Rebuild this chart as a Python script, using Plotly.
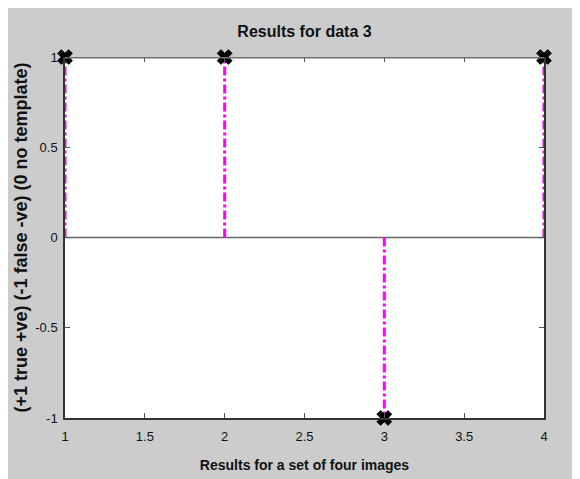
import plotly.graph_objects as go

x_vals = [1, 2, 3, 4]
y_vals = [1, 1, -1, 1]
x_ticks = [1, 1.5, 2, 2.5, 3, 3.5, 4]
x_tick_labels = ["1", "1.5", "2", "2.5", "3", "3.5", "4"]
y_ticks = [-1, -0.5, 0, 0.5, 1]
y_tick_labels = ["-1", "-0.5", "0", "0.5", "1"]

title = "Results for data 3"
x_title = "Results for a set of four images"
y_title = "(+1 true +ve) (-1 false -ve) (0 no template)"

W, H = 592, 490
L, T = 57, 49
pw, ph = 479, 361
R, B = W - L - pw, H - T - ph

fig = go.Figure()

# baseline
fig.add_trace(go.Scatter(x=[min(x_vals), max(x_vals)], y=[0, 0], mode="lines",
                         line=dict(color="#666666", width=1.5), showlegend=False, hoverinfo="skip"))

# stems
sx, sy = [], []
for xv, yv in zip(x_vals, y_vals):
    sx += [xv, xv, None]
    sy += [0, yv, None]
fig.add_trace(go.Scatter(x=sx, y=sy, mode="lines",
                         line=dict(color="#ff00ff", width=3, dash="dashdot"),
                         showlegend=False, hoverinfo="skip", cliponaxis=False))

# markers
fig.add_trace(go.Scatter(x=x_vals, y=y_vals, mode="markers",
                         marker=dict(symbol="x", size=13, color="black",
                                     line=dict(width=1, color="black")),
                         showlegend=False, cliponaxis=False))

fig.update_layout(
    width=W, height=H,
    margin=dict(l=L, r=R, t=T, b=B),
    paper_bgcolor="#cccccc",
    plot_bgcolor="white",
    font=dict(family="Liberation Sans, Arial, sans-serif", size=12, color="#111111"),
    title=dict(text="<b>" + title + "</b>", x=(L + pw / 2) / W, xanchor="center",
               y=1 - 23 / H, yanchor="middle", font=dict(size=16)),
    xaxis=dict(range=[1, 4], tickvals=x_ticks, ticktext=x_tick_labels,
               showgrid=False, zeroline=False, showline=True, linecolor="#333333", linewidth=1.5,
               mirror=False, ticks="inside", ticklen=5, tickcolor="#555555",
               tickfont=dict(size=13), ticklabelstandoff=6,
               title=dict(text="<b>" + x_title + "</b>", font=dict(size=14), standoff=17)),
    xaxis2=dict(range=[1, 4], tickvals=x_ticks, overlaying="x", side="top", matches="x",
                showgrid=False, zeroline=False, showline=False, showticklabels=False,
                ticks="inside", ticklen=5, tickcolor="#555555"),
    yaxis=dict(range=[-1, 1], tickvals=y_ticks, ticktext=y_tick_labels,
               showgrid=False, zeroline=False, showline=True, linecolor="#333333", linewidth=1.5,
               mirror="ticks", ticks="inside", ticklen=5, tickcolor="#555555",
               tickfont=dict(size=13), ticklabelstandoff=3,
               title=dict(text="<b>" + y_title + "</b>", font=dict(size=18), standoff=3)),
    shapes=[
        dict(type="line", xref="x", yref="y", layer="above",
             x0=1, x1=4, y0=1, y1=1, line=dict(color="#707070", width=3)),
    ],
)
fig.add_trace(go.Scatter(x=[x_vals[0]], y=[y_vals[0]], xaxis="x2", mode="markers",
                         marker=dict(opacity=0), showlegend=False, hoverinfo="skip"))

fig.write_html("out.html")
